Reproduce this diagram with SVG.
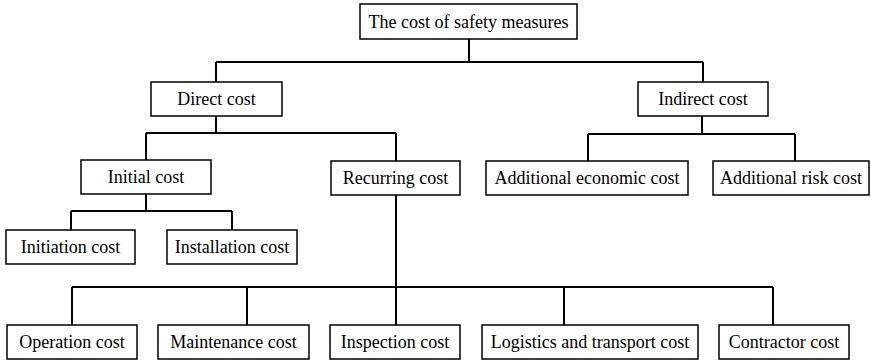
<svg xmlns="http://www.w3.org/2000/svg" width="871" height="361" viewBox="0 0 871 361">
<style>
.box{fill:#fff;stroke:#000;stroke-width:1.5}
.lbl{font-family:"Liberation Serif","Times New Roman",serif;font-size:18px;fill:#000;text-anchor:middle;dominant-baseline:central}
.con{fill:none;stroke:#000;stroke-width:2}
</style>
<rect width="871" height="361" fill="#fff"/>
<g id="connectors">
<path class="con" d="M469 39V62M216 62H703M216 62V82M703 62V83"/>
<path class="con" d="M216 116V133M146 133H396M146 133V160M396 133V161"/>
<path class="con" d="M146 194V211M71 211H232M71 211V230M232 211V230"/>
<path class="con" d="M396 195V287M72 287H773M72 287V325M247 287V325M396 287V325M564 287V325M773 287V325"/>
<path class="con" d="M702 116V134M588 134H795M588 134V161M795 134V161"/>
</g>
<g id="root"><rect class="box" x="360" y="4" width="217" height="35"/><text class="lbl" x="468.5" y="21.5">The cost of safety measures</text></g>
<g id="direct"><rect class="box" x="151" y="82" width="131" height="34"/><text class="lbl" x="216.5" y="99">Direct cost</text></g>
<g id="indirect"><rect class="box" x="638" y="82" width="130" height="34"/><text class="lbl" x="703" y="99">Indirect cost</text></g>
<g id="initial"><rect class="box" x="81" y="160" width="130" height="34"/><text class="lbl" x="146" y="177">Initial cost</text></g>
<g id="recurring"><rect class="box" x="331" y="161" width="129" height="34"/><text class="lbl" x="395.5" y="178">Recurring cost</text></g>
<g id="addeco"><rect class="box" x="486" y="161" width="202" height="34"/><text class="lbl" x="587" y="178">Additional economic cost</text></g>
<g id="addrisk"><rect class="box" x="713" y="161" width="156" height="34"/><text class="lbl" x="791" y="178">Additional risk cost</text></g>
<g id="initiation"><rect class="box" x="6" y="230" width="129" height="34"/><text class="lbl" x="70.5" y="247">Initiation cost</text></g>
<g id="installation"><rect class="box" x="167" y="230" width="130" height="34"/><text class="lbl" x="232" y="247">Installation cost</text></g>
<g id="operation"><rect class="box" x="7" y="325" width="130" height="34"/><text class="lbl" x="72" y="342">Operation cost</text></g>
<g id="maintenance"><rect class="box" x="158" y="325" width="151" height="34"/><text class="lbl" x="233.5" y="342">Maintenance cost</text></g>
<g id="inspection"><rect class="box" x="330" y="325" width="130" height="34"/><text class="lbl" x="395" y="342">Inspection cost</text></g>
<g id="logistics"><rect class="box" x="482" y="325" width="216" height="34"/><text class="lbl" x="590" y="342">Logistics and transport cost</text></g>
<g id="contractor"><rect class="box" x="719" y="325" width="130" height="34"/><text class="lbl" x="784" y="342">Contractor cost</text></g>
</svg>
